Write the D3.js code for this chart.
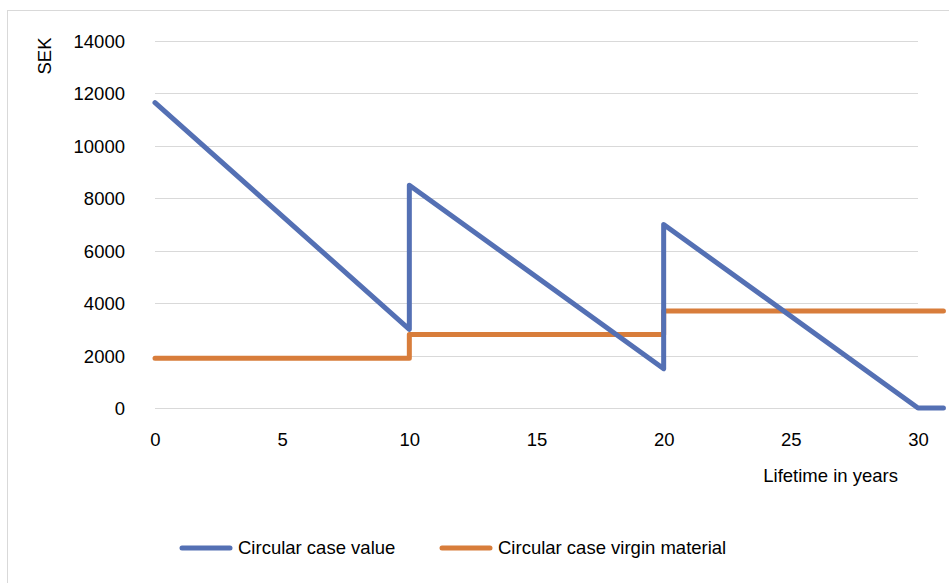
<!DOCTYPE html>
<html>
<head>
<meta charset="utf-8">
<title>Circular case</title>
<style>
body { margin: 0; background: #fff; }
svg text { font-family: "Liberation Sans", Arial, sans-serif; fill: #000; }
</style>
<script src="https://d3js.org/d3.v7.min.js"></script>
</head>
<body>
<div id="chart"></div>
<script>
// series vertices (years, SEK)
var valueYears = [0, 10, 10, 20, 20, 30, 31];
var valueSEK = [11650, 3000, 8500, 1500, 7000, 0, 0];
var virginYears = [0, 10, 10, 20, 20, 31];
var virginSEK = [1900, 1900, 2800, 2800, 3700, 3700];
var xTicks = [0, 5, 10, 15, 20, 25, 30];
var yTicks = [0, 2000, 4000, 6000, 8000, 10000, 12000, 14000];
var seriesNames = ["Circular case value", "Circular case virgin material"];

var blue = "#5470b4", orange = "#d87d3b";
var W = 949, H = 583;
var fs = "18.5px";

var svg = d3.select("#chart").append("svg")
    .attr("width", W).attr("height", H);

// chart border
svg.append("rect")
    .attr("x", 7.5).attr("y", 10.5)
    .attr("width", 980).attr("height", 620)
    .attr("fill", "none").attr("stroke", "#d9d9d9");

var x = d3.scaleLinear().domain([0, 30]).range([155, 918]);
var y = d3.scaleLinear().domain([0, 14000]).range([408, 41]);

// gridlines
svg.append("g").selectAll("line")
    .data(yTicks).enter().append("line")
    .attr("x1", x(0)).attr("x2", x(30))
    .attr("y1", function(d) { return Math.round(y(d)) + 0.5; })
    .attr("y2", function(d) { return Math.round(y(d)) + 0.5; })
    .attr("stroke", "#d9d9d9").attr("stroke-width", 1);

// y axis labels
var yAxis = svg.append("g")
    .attr("transform", "translate(" + (x(0) - 30) + ",0)")
    .call(d3.axisLeft(y).tickValues(yTicks).tickSize(0).tickPadding(0).tickFormat(d3.format("d")));
yAxis.select(".domain").remove();
yAxis.selectAll("text").attr("font-size", fs).attr("dy", "0.35em");

// x axis labels
var xAxis = svg.append("g")
    .attr("transform", "translate(0," + (y(0) + 25) + ")")
    .call(d3.axisBottom(x).tickValues(xTicks).tickSize(0).tickPadding(0).tickFormat(d3.format("d")));
xAxis.select(".domain").remove();
xAxis.selectAll("text").attr("font-size", fs).attr("dy", "0.71em");

// axis titles
svg.append("text")
    .attr("transform", "translate(51,56) rotate(-90)")
    .attr("text-anchor", "middle")
    .attr("font-size", fs)
    .text("SEK");

svg.append("text")
    .attr("x", 898).attr("y", 482)
    .attr("text-anchor", "end")
    .attr("font-size", fs)
    .text("Lifetime in years");

var line = d3.line()
    .x(function(d) { return x(d[0]); })
    .y(function(d) { return y(d[1]); });

var valueData = d3.zip(valueYears, valueSEK);
var virginData = d3.zip(virginYears, virginSEK);

svg.append("path")
    .datum(virginData)
    .attr("d", line)
    .attr("fill", "none").attr("stroke", orange)
    .attr("stroke-width", 5).attr("stroke-linecap", "round").attr("stroke-linejoin", "round");

svg.append("path")
    .datum(valueData)
    .attr("d", line)
    .attr("fill", "none").attr("stroke", blue)
    .attr("stroke-width", 5).attr("stroke-linecap", "round").attr("stroke-linejoin", "round");

// legend
var legend = svg.append("g").selectAll("g")
    .data(seriesNames).enter().append("g")
    .attr("transform", function(d, i) { return "translate(" + [182, 442][i] + ",548)"; });

legend.append("line")
    .attr("x1", 0).attr("x2", 48)
    .attr("stroke", function(d, i) { return [blue, orange][i]; })
    .attr("stroke-width", 5).attr("stroke-linecap", "round");

legend.append("text")
    .attr("x", 56).attr("dy", "0.35em")
    .attr("font-size", fs)
    .text(function(d) { return d; });
</script>
</body>
</html>
